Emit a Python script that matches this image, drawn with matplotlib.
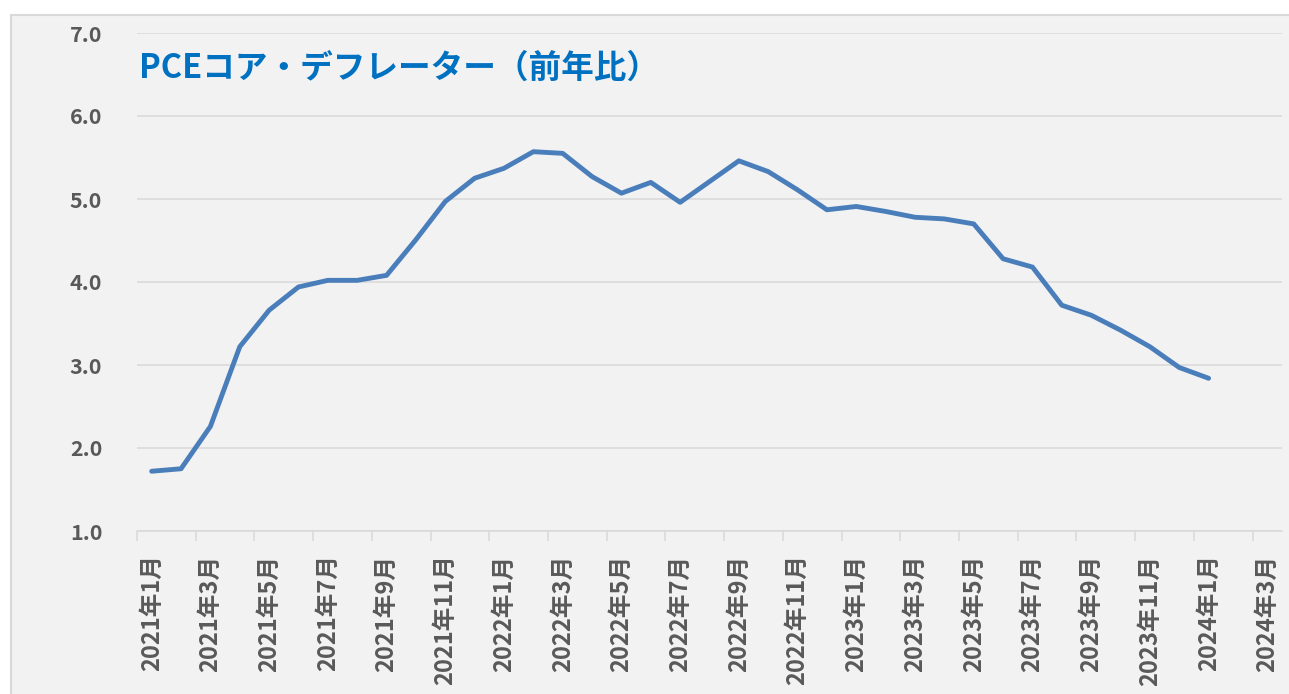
import matplotlib
matplotlib.use('Agg')
import matplotlib.pyplot as plt
from matplotlib.patches import Rectangle
import numpy as np

# PCE core deflator, YoY %, monthly from 2021-01 to 2024-01
pce_core = [1.72, 1.75, 2.26, 3.22, 3.66, 3.94, 4.02, 4.02, 4.08, 4.51,
            4.97, 5.25, 5.37, 5.57, 5.55, 5.27, 5.07, 5.20, 4.96, 5.21,
            5.46, 5.33, 5.11, 4.87, 4.91, 4.85, 4.78, 4.76, 4.70, 4.28,
            4.18, 3.72, 3.60, 3.42, 3.22, 2.97, 2.84]

# category axis runs 2021年1月 .. 2024年3月 (39 months), labelled every 2 months
n_months = 39
tick_labels = ['2021年1月', '2021年3月', '2021年5月', '2021年7月', '2021年9月',
               '2021年11月', '2022年1月', '2022年3月', '2022年5月', '2022年7月',
               '2022年9月', '2022年11月', '2023年1月', '2023年3月', '2023年5月',
               '2023年7月', '2023年9月', '2023年11月', '2024年1月', '2024年3月']
y_ticks = [1.0, 2.0, 3.0, 4.0, 5.0, 6.0, 7.0]

title = 'PCEコア・デフレーター（前年比）'

plt.rcParams['font.family'] = ['Noto Sans CJK JP', 'DejaVu Sans']

W, H = 1289, 694
fig = plt.figure(figsize=(W / 100, H / 100), dpi=100)
fig.patch.set_facecolor('white')

# chart area (gray box with thin border)
fig.patches.append(Rectangle((11 / W, -0.05), 1.05, (H - 15) / H + 0.05,
                             transform=fig.transFigure, facecolor='#f2f2f2',
                             edgecolor='#d9d9d9', lw=1.5, zorder=-10))

ax = fig.add_axes([137 / W, (H - 531) / H, (1282 - 137) / W, (531 - 33) / H])
ax.set_facecolor('none')

x = np.arange(len(pce_core))
ax.plot(x, pce_core, color='#4A7EBB', lw=3.5, solid_capstyle='round',
        solid_joinstyle='round', zorder=3)

ax.set_xlim(-0.5, n_months - 0.5)
ax.set_ylim(y_ticks[0], y_ticks[-1])

ax.set_yticks(y_ticks)
ax.set_yticklabels([f'{v:.1f}' for v in y_ticks])
ax.yaxis.grid(True, color='#d9d9d9', lw=1.1)
ax.set_axisbelow(True)

ax.set_xticks(np.arange(0, n_months, 2))
ax.set_xticklabels(tick_labels, rotation=90, va='top', ha='center')
ax.set_xticks(np.arange(-0.5, n_months - 1, 2), minor=True)

ax.tick_params(axis='y', length=0, pad=25, labelsize=15.5, labelcolor='#595959')
ax.tick_params(axis='x', which='major', length=0, pad=17, labelsize=17,
               labelcolor='#595959')
ax.tick_params(axis='x', which='minor', length=7, width=1.1, color='#d9d9d9')
for lab in ax.get_xticklabels() + ax.get_yticklabels():
    lab.set_fontweight('bold')

for side in ['top', 'right', 'left']:
    ax.spines[side].set_visible(False)
ax.spines['bottom'].set_color('#d9d9d9')
ax.spines['bottom'].set_linewidth(1.1)

fig.text(139 / W, 1 - 68 / H, title, color='#0070C0', fontsize=23.5,
         fontweight='bold', ha='left', va='center')

fig.savefig('out.png', dpi=100)
plt.close(fig)
